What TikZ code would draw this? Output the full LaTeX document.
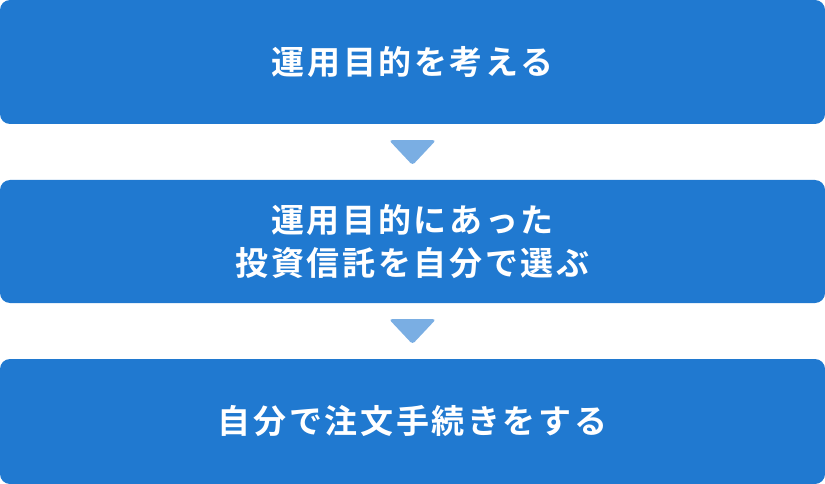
\documentclass[tikz,border=0pt]{standalone}
\usepackage{xcolor}
\usepackage{fontspec}
\newfontfamily\jpfont{Noto Sans CJK JP Bold}[LetterSpace=8]
\usetikzlibrary{positioning}
\usetikzlibrary{calc}
\definecolor{boxblue}{HTML}{2079D0}
\definecolor{triblue}{HTML}{7AAEE3}
\tikzset{
  stepbox/.style={fill=boxblue,text=white,rounded corners=10pt,minimum width=825pt,
    inner sep=0pt,align=center,font=\jpfont\fontsize{33}{43}\selectfont},
  downtri/.style={fill=triblue,rounded corners=3pt}
}
\begin{document}
\begin{tikzpicture}[x=1pt,y=1pt]
\useasboundingbox (0,0) rectangle (825,-484);
\node[stepbox,minimum height=124pt] (goal) at (412.5,-62) {運用目的を考える};
\node[stepbox,minimum height=123pt] (fund) at (412.5,-241.5) {運用目的にあった\\投資信託を自分で選ぶ};
\node[stepbox,minimum height=125pt] (order) at (412.5,-421.5) {自分で注文手続きをする};
\fill[downtri] ($(goal.south)+(-23.5,-16)$) -- ++(47,0) -- ($(goal.south)+(0,-41)$) -- cycle;
\fill[downtri] ($(fund.south)+(-23.5,-16)$) -- ++(47,0) -- ($(fund.south)+(0,-41)$) -- cycle;
\end{tikzpicture}
\end{document}
